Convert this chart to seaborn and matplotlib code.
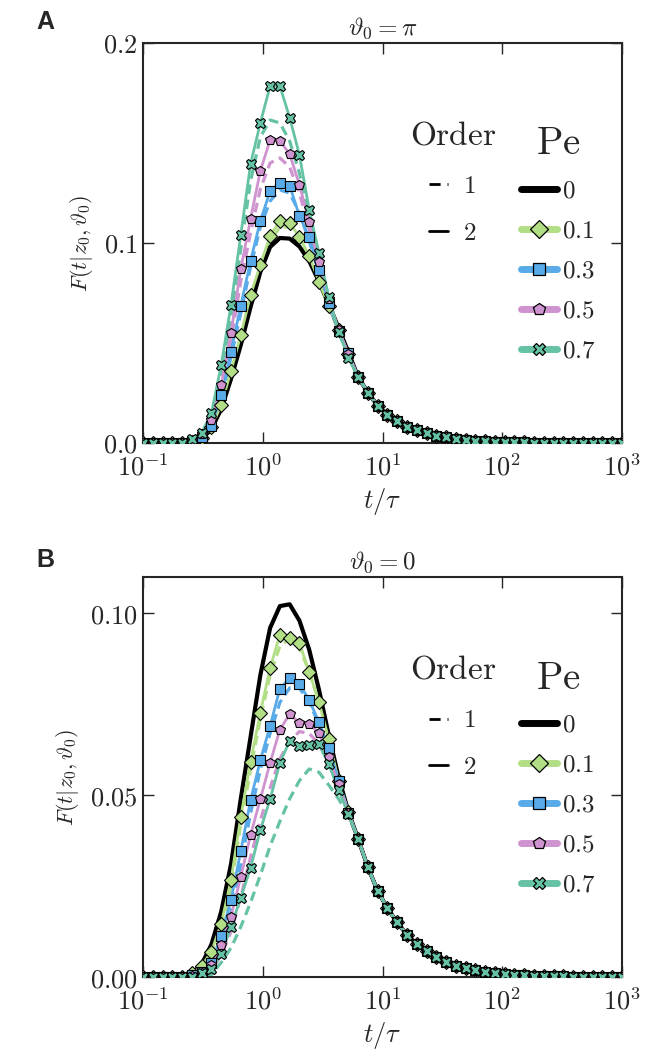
import numpy as np
import matplotlib
matplotlib.use("Agg")
import matplotlib.pyplot as plt
from matplotlib import ticker
from matplotlib.lines import Line2D
import seaborn as sns

# marker / sample grid: 50 log-spaced times between 1e-1 and 1e3
t = np.logspace(-1, 3, 50)

pe_labels = ["0", "0.1", "0.3", "0.5", "0.7"]
pe_colors = ["#000000", "#b2de86", "#58aae8", "#cf93cf", "#66c2a5"]
pe_markers = [None, "D", "s", "p", "X"]

# ---- panel A (theta0 = pi), values for the first 22 grid points ----
a_black = [0, 0, 0, 0, 0, 0.0005, 0.002, 0.007, 0.017, 0.032, 0.049, 0.068, 0.0855,
           0.098, 0.1025, 0.1022, 0.0982, 0.091, 0.0807, 0.0695, 0.0575, 0.0455]
a_green = [0, 0, 0, 0, 0, 0.0006, 0.0025, 0.008, 0.019, 0.036, 0.054, 0.074, 0.089,
           0.1037, 0.111, 0.110, 0.103, 0.0935, 0.0807, 0.0685, 0.0565, 0.0447]
a_blue = [0, 0, 0, 0, 0, 0.0008, 0.003, 0.0087, 0.024, 0.0457, 0.0687, 0.091, 0.111,
          0.126, 0.130, 0.1287, 0.1135, 0.103, 0.0865, 0.070, 0.056, 0.0448]
a_pink = [0, 0, 0, 0, 0, 0.001, 0.0043, 0.0115, 0.029, 0.055, 0.087, 0.112, 0.136,
          0.1515, 0.151, 0.1445, 0.129, 0.1107, 0.0907, 0.072, 0.0565, 0.0445]
a_teal = [0, 0, 0, 0, 0, 0.002, 0.005, 0.015, 0.039, 0.069, 0.104, 0.1395, 0.160,
          0.1785, 0.1785, 0.1627, 0.144, 0.1165, 0.095, 0.073, 0.0557, 0.0427]
# first order (dashed)
a_green_1 = [0, 0, 0, 0, 0, 0.0005, 0.002, 0.007, 0.018, 0.034, 0.052, 0.072, 0.088,
             0.101, 0.108, 0.108, 0.102, 0.092, 0.080, 0.068, 0.056, 0.0447]
a_blue_1 = [0, 0, 0, 0, 0, 0.0007, 0.0028, 0.008, 0.022, 0.043, 0.065, 0.088, 0.108,
            0.121, 0.1265, 0.125, 0.115, 0.101, 0.085, 0.069, 0.056, 0.0447]
a_pink_1 = [0, 0, 0, 0, 0, 0.0009, 0.004, 0.0105, 0.027, 0.051, 0.081, 0.105, 0.127,
            0.140, 0.1425, 0.138, 0.125, 0.107, 0.089, 0.071, 0.0563, 0.0445]
a_teal_1 = [0, 0, 0, 0, 0, 0.0015, 0.0045, 0.013, 0.035, 0.063, 0.097, 0.131, 0.153,
            0.1615, 0.160, 0.151, 0.135, 0.112, 0.092, 0.072, 0.0557, 0.0435]
# common long-time tail (grid points 22..49)
a_tail = [0.033, 0.0252, 0.0187, 0.0142, 0.0108, 0.0082, 0.0063, 0.0048, 0.0037, 0.0028,
          0.0021, 0.0016, 0.0012, 0.0009, 0.0007, 0.00053, 0.0004, 0.0003, 0.00023,
          0.00017, 0.00013, 0.0001, 0.00008, 0.00006, 0.00004, 0.00003, 0.00002, 0.00002]

# ---- panel B (theta0 = 0) ----
b_black = [0, 0, 0, 0, 0, 0.001, 0.0035, 0.009, 0.018, 0.031, 0.049, 0.066, 0.083,
           0.096, 0.102, 0.1025, 0.098, 0.090, 0.079, 0.0665, 0.055, 0.0455]
b_green = [0, 0, 0, 0, 0, 0.001, 0.003, 0.007, 0.0147, 0.0266, 0.044, 0.0592, 0.0727,
           0.085, 0.0941, 0.0932, 0.0918, 0.0839, 0.0756, 0.0654, 0.054, 0.0455]
b_blue = [0, 0, 0, 0, 0, 0.0005, 0.0015, 0.0039, 0.0113, 0.0212, 0.0346, 0.0486, 0.0596,
          0.069, 0.0793, 0.0822, 0.0807, 0.0761, 0.0701, 0.063, 0.054, 0.0452]
b_pink = [0, 0, 0, 0, 0, 0.0004, 0.0012, 0.0033, 0.0088, 0.0166, 0.0276, 0.039, 0.0489,
          0.0589, 0.068, 0.0723, 0.0699, 0.0697, 0.067, 0.0604, 0.053, 0.045]
b_teal = [0, 0, 0, 0, 0, 0, 0.001, 0.0021, 0.0063, 0.0138, 0.0218, 0.030, 0.0404,
          0.0489, 0.0589, 0.0649, 0.0635, 0.0637, 0.064, 0.0585, 0.0514, 0.0448]
b_green_1 = [0, 0, 0, 0, 0, 0.0008, 0.0028, 0.0068, 0.013, 0.025, 0.042, 0.057, 0.071,
             0.083, 0.091, 0.093, 0.0905, 0.084, 0.0755, 0.0655, 0.055, 0.0455]
b_blue_1 = [0, 0, 0, 0, 0, 0.0004, 0.0013, 0.003, 0.009, 0.018, 0.031, 0.045, 0.057,
            0.067, 0.0755, 0.0795, 0.0795, 0.0755, 0.0695, 0.0625, 0.054, 0.0452]
b_pink_1 = [0, 0, 0, 0, 0, 0, 0.0008, 0.002, 0.006, 0.0125, 0.022, 0.033, 0.043,
            0.052, 0.060, 0.065, 0.0675, 0.067, 0.064, 0.059, 0.0525, 0.0455]
b_teal_1 = [0, 0, 0, 0, 0, 0, 0, 0.0006, 0.004, 0.008, 0.0138, 0.0205, 0.028,
            0.036, 0.0428, 0.049, 0.054, 0.0572, 0.0563, 0.0528, 0.049, 0.0445]
b_tail = [0.038, 0.0302, 0.0237, 0.0189, 0.0150, 0.0116, 0.0091, 0.0071, 0.0054, 0.0041,
          0.0031, 0.0024, 0.0018, 0.0014, 0.00105, 0.0008, 0.0006, 0.00046, 0.00035,
          0.00026, 0.0002, 0.00015, 0.00011, 0.00008, 0.00006, 0.00005, 0.00004, 0.00003]

sns.set_style("ticks")
plt.rcParams["mathtext.fontset"] = "cm"
plt.rcParams["font.family"] = ["DejaVu Serif"]


def full(head, tail):
    return np.array(head + tail)


def draw_panel(ax, solid, dashed, tail, title, ylim, yticks, yfmt):
    # dashed first-order curves (no Pe=0 dashed)
    for i, d in enumerate(dashed, start=1):
        sns.lineplot(x=t, y=full(d, tail), ax=ax, color=pe_colors[i], lw=2.3,
                     linestyle=(0, (3, 1.8)), zorder=2)
    for i, s in enumerate(solid):
        lw = 3.0 if i == 0 else 2.0
        sns.lineplot(x=t, y=full(s, tail), ax=ax, color=pe_colors[i], lw=lw, zorder=3)
    for i, s in enumerate(solid):
        if pe_markers[i] is None:
            continue
        ax.plot(t, full(s, tail), ls="none", marker=pe_markers[i], ms=7.5,
                mfc=pe_colors[i], mec="k", mew=0.8, zorder=4 + i)
    ax.set_xscale("log")
    ax.set_xlim(1e-1, 1e3)
    ax.set_ylim(*ylim)
    ax.set_xticks([1e-1, 1e0, 1e1, 1e2, 1e3])
    ax.xaxis.set_major_formatter(ticker.FuncFormatter(
        lambda v, p: r"$10^{%d}$" % int(round(np.log10(v)))))
    ax.xaxis.set_minor_locator(ticker.NullLocator())
    ax.set_yticks(yticks)
    ax.yaxis.set_major_formatter(ticker.FuncFormatter(lambda v, p: "$" + yfmt % v + "$"))
    ax.tick_params(which="major", direction="in", length=8, width=1.0, top=True,
                   right=True, labelsize=19)
    ax.tick_params(axis="x", pad=8)
    ax.tick_params(axis="y", pad=4)
    for sp in ax.spines.values():
        sp.set_linewidth(1.5)
        sp.set_visible(True)
    ax.set_xlabel(r"$t/\tau$", fontsize=19, labelpad=4)
    ax.set_ylabel(r"$F(t|z_0,\vartheta_0)$", fontsize=16, labelpad=6)
    ax.set_title(title, fontsize=18, pad=6)

    order_handles = [Line2D([], [], color="k", lw=2, ls=(0, (4, 2.5))),
                     Line2D([], [], color="k", lw=2)]
    leg1 = ax.legend(order_handles, ["$1$", "$2$"], title=r"$\mathrm{Order}$",
                     frameon=False, handlelength=0.75, handletextpad=0.6,
                     fontsize=18, title_fontsize=24, labelspacing=0.95,
                     loc="upper left", bbox_to_anchor=(0.51, 0.865))
    ax.add_artist(leg1)
    pe_handles = [Line2D([], [], color=c, lw=5, marker=m, ms=9, mfc=c, mec="k", mew=0.9)
                  for c, m in zip(pe_colors, pe_markers)]
    ax.legend(pe_handles, ["$%s$" % s for s in pe_labels], title=r"$\mathrm{Pe}$",
              frameon=False, handlelength=1.45, handletextpad=0.2, fontsize=18,
              title_fontsize=28, labelspacing=0.68, loc="upper left",
              bbox_to_anchor=(0.742, 0.85))


fig = plt.figure(figsize=(6.54, 10.51), dpi=100)
ax_a = fig.add_axes([0.2187, 0.5785, 0.7324, 0.3806])
ax_b = fig.add_axes([0.2187, 0.0704, 0.7324, 0.3806])

draw_panel(ax_a, [a_black, a_green, a_blue, a_pink, a_teal],
           [a_green_1, a_blue_1, a_pink_1, a_teal_1], a_tail,
           r"$\vartheta_0=\pi$", (0, 0.2), [0.0, 0.1, 0.2], "%.1f")
draw_panel(ax_b, [b_black, b_green, b_blue, b_pink, b_teal],
           [b_green_1, b_blue_1, b_pink_1, b_teal_1], b_tail,
           r"$\vartheta_0=0$", (0, 0.11), [0.0, 0.05, 0.10], "%.2f")

fig.text(45 / 654, 1 - 22 / 1051, "A", fontsize=18, fontweight="bold",
         family="Liberation Sans", ha="center", va="center")
fig.text(45 / 654, 1 - 560 / 1051, "B", fontsize=18, fontweight="bold",
         family="Liberation Sans", ha="center", va="center")

fig.savefig("out.png", dpi=100)
